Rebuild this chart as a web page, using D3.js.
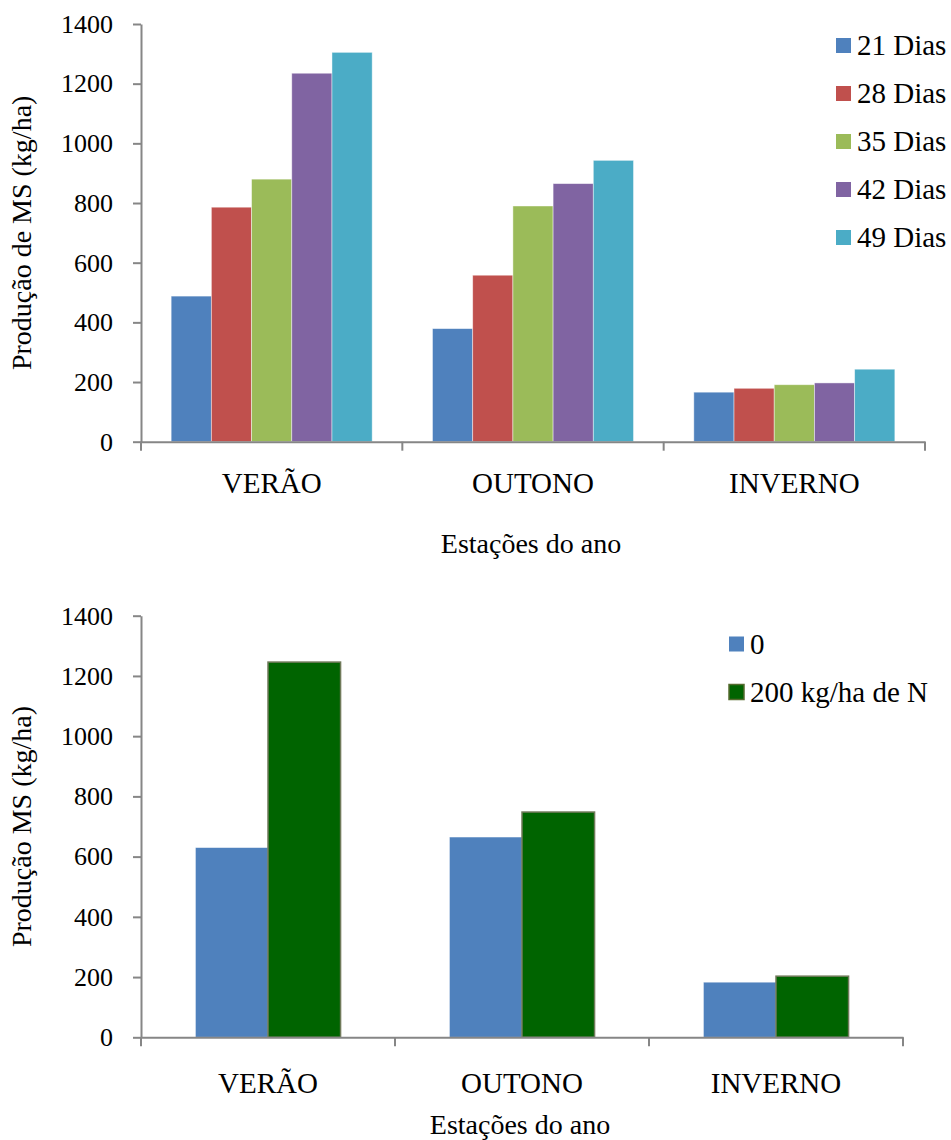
<!DOCTYPE html>
<html>
<head>
<meta charset="utf-8">
<script src="https://cdn.jsdelivr.net/npm/d3@7"></script>
</head>
<body style="margin:0;background:#fff">
<svg id="chart" width="951" height="1140" style="display:block;font-family:'Liberation Serif'"></svg>
<script>
// ---------- Data ----------
const seasons = ["VERÃO", "OUTONO", "INVERNO"];
const yTicks = [0, 200, 400, 600, 800, 1000, 1200, 1400];

// Chart 1: harvest interval
const intervalNames = ["21 Dias", "28 Dias", "35 Dias", "42 Dias", "49 Dias"];
const dias21 = [488, 379, 166];
const dias28 = [786, 558, 179];
const dias35 = [880, 790, 191];
const dias42 = [1235, 865, 197];
const dias49 = [1305, 943, 243];
const intervalColors = ["#4F81BD", "#C0504D", "#9BBB59", "#8064A2", "#4BACC6"];

// Chart 2: nitrogen
const nitroNames = ["0", "200 kg/ha de N"];
const nitro0 = [630, 665, 183];
const nitro200 = [1246, 748, 203];
const nitroColors = ["#4F81BD", "#006400"];

const FONT = "Liberation Serif";
const svg = d3.select("#chart");
const axisColor = "#868686";

function drawChart(cfg) {
  const g = svg.append("g");
  const x = d3.scaleBand().domain(seasons).range([cfg.x0, cfg.x1]).padding(0);
  const xi = d3.scaleBand().domain(cfg.names).range([0, x.bandwidth()])
    .paddingInner(0).paddingOuter(cfg.outerPad);
  const y = d3.scaleLinear().domain([0, 1400]).range([cfg.yBottom, cfg.yTop]);

  // bars
  const rows = [];
  cfg.series.forEach((vals, si) => {
    vals.forEach((v, ci) => rows.push({ s: cfg.names[si], si, c: seasons[ci], v }));
  });
  g.selectAll("rect.bar").data(rows).enter().append("rect")
    .attr("class", "bar")
    .attr("x", d => x(d.c) + xi(d.s))
    .attr("width", xi.bandwidth())
    .attr("y", d => y(d.v))
    .attr("height", d => y(0) - y(d.v))
    .attr("fill", d => cfg.colors[d.si])
    .attr("stroke", d => cfg.strokes[d.si])
    .attr("stroke-width", d => cfg.strokeW[d.si]);

  // y axis
  const ya = g.append("g").attr("transform", `translate(${cfg.x0},0)`)
    .call(d3.axisLeft(y).tickValues(yTicks).tickFormat(d3.format("d"))
      .tickSize(8).tickSizeOuter(0).tickPadding(20));
  ya.attr("font-family", FONT);
  ya.select(".domain").attr("stroke", axisColor).attr("stroke-width", 2);
  ya.selectAll(".tick line").attr("stroke", axisColor).attr("stroke-width", 2);
  ya.selectAll(".tick text").style("font-size", "26px").style("font-family", FONT).attr("fill", "#000");

  // x axis
  const xa = g.append("g").attr("transform", `translate(0,${cfg.yBottom})`)
    .call(d3.axisBottom(x).tickSize(0).tickSizeOuter(0).tickPadding(0));
  xa.attr("font-family", FONT);
  xa.select(".domain").attr("stroke", axisColor).attr("stroke-width", 2);
  xa.selectAll(".tick text").attr("y", cfg.labelY).attr("dy", 0).attr("fill", "#000")
    .style("font-size", "29px").style("font-family", FONT);
  // boundary ticks between categories
  const bounds = seasons.map(s => x(s)).concat([x(seasons[seasons.length - 1]) + x.bandwidth()]);
  xa.selectAll("line.bt").data(bounds).enter().append("line")
    .attr("class", "bt")
    .attr("x1", d => d).attr("x2", d => d)
    .attr("y1", 0).attr("y2", 9)
    .attr("stroke", axisColor).attr("stroke-width", 2);

  // axis titles
  g.append("text")
    .attr("x", (cfg.x0 + cfg.x1) / 2 - 2)
    .attr("y", cfg.xTitleY)
    .attr("text-anchor", "middle")
    .style("font-size", "28px").style("font-family", FONT)
    .text("Estações do ano");
  g.append("text")
    .attr("transform", `translate(${cfg.yTitleX},${(cfg.yTop + cfg.yBottom) / 2}) rotate(-90)`)
    .attr("text-anchor", "middle")
    .style("font-size", "28px").style("font-family", FONT)
    .text(cfg.yTitle);

  // legend
  const lg = g.append("g");
  const items = lg.selectAll("g.li").data(cfg.names).enter().append("g")
    .attr("class", "li")
    .attr("transform", (d, i) => `translate(${cfg.legX},${cfg.legY + i * 48})`);
  items.append("rect")
    .attr("x", 0).attr("y", -7.5).attr("width", 15).attr("height", 15)
    .attr("fill", (d, i) => cfg.colors[i])
    .attr("stroke", (d, i) => cfg.legStroke[i])
    .attr("stroke-width", (d, i) => cfg.legStroke[i] === "none" ? 0 : 1.5);
  items.append("text")
    .attr("x", 21).attr("y", 0).attr("dy", "0.34em")
    .style("font-size", "29px").style("font-family", FONT)
    .text(d => d);
}

drawChart({
  x0: 141, x1: 925, yTop: 24, yBottom: 441.7,
  names: intervalNames,
  series: [dias21, dias28, dias35, dias42, dias49],
  colors: intervalColors,
  strokes: intervalColors.map(() => "rgba(255,255,255,0.55)"),
  strokeW: intervalColors.map(() => 0.8),
  outerPad: 0.75,
  labelY: 51, xTitleY: 553, yTitleX: 31,
  yTitle: "Produção de MS (kg/ha)",
  legX: 836, legY: 45.5,
  legStroke: intervalColors.map(() => "none")
});

drawChart({
  x0: 141, x1: 903, yTop: 615.7, yBottom: 1037.3,
  names: nitroNames,
  series: [nitro0, nitro200],
  colors: nitroColors,
  strokes: ["rgba(255,255,255,0.55)", "#707a5a"],
  strokeW: [0.8, 1.5],
  outerPad: 0.75,
  labelY: 56, xTitleY: 1134, yTitleX: 31,
  yTitle: "Produção MS (kg/ha)",
  legX: 729, legY: 644,
  legStroke: ["none", "#556b2f"]
});
</script>
</body>
</html>
